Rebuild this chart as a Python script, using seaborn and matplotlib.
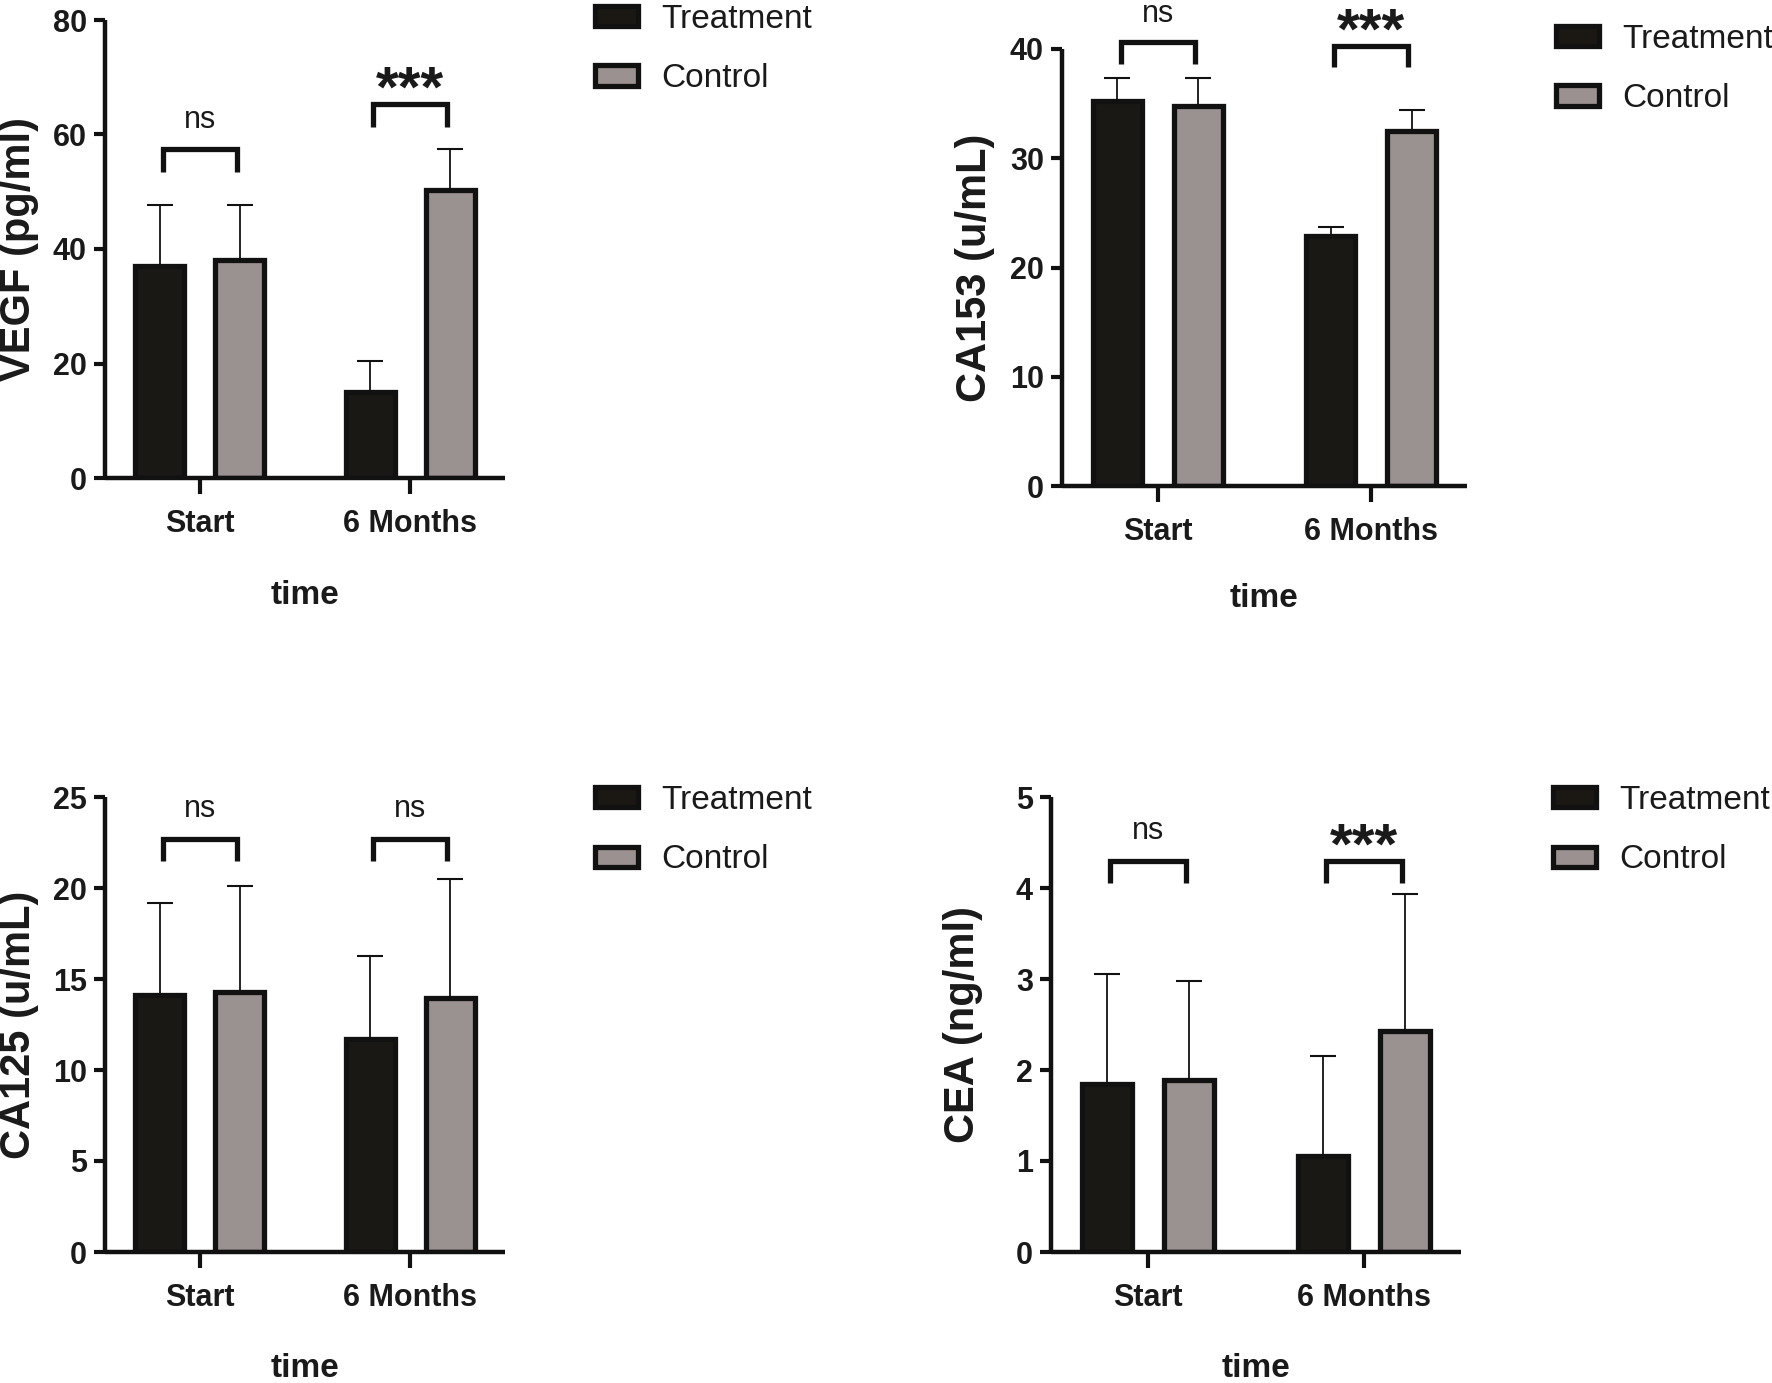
import numpy as np
import pandas as pd
import matplotlib
matplotlib.use("Agg")
import matplotlib.pyplot as plt
from matplotlib.patches import Patch
from matplotlib.container import BarContainer
import seaborn as sns

# ---------------- data ----------------
times = ["Start", "6 Months"]
groups = ["Treatment", "Control"]

vegf_treatment = [37.0, 15.0]
vegf_control = [38.0, 50.3]
vegf_treatment_err = [10.7, 5.4]
vegf_control_err = [9.7, 7.1]

ca153_treatment = [35.25, 22.9]
ca153_control = [34.8, 32.5]
ca153_treatment_err = [2.05, 0.8]
ca153_control_err = [2.5, 1.9]

ca125_treatment = [14.1, 11.7]
ca125_control = [14.3, 13.95]
ca125_treatment_err = [5.1, 4.55]
ca125_control_err = [5.8, 6.55]

cea_treatment = [1.85, 1.05]
cea_control = [1.89, 2.43]
cea_treatment_err = [1.21, 1.1]
cea_control_err = [1.09, 1.5]

y_labels = ["VEGF (pg/ml)", "CA153 (u/mL)", "CA125 (u/mL)", "CEA (ng/ml)"]
y_max = [80, 40, 25, 5]
y_step = [20, 10, 5, 1]

sig_labels = [["ns", "***"], ["ns", "***"], ["ns", "ns"], ["ns", "***"]]
bracket_tops = [[57.4, 65.3], [40.6, 40.3], [22.7, 22.7], [4.3, 4.3]]

# ---------------- style ----------------
sns.set_theme(style="white")
plt.rcParams["font.family"] = ["Liberation Sans", "DejaVu Sans"]
TXT = "#1a1a1a"
DARK = "#111111"
colors = {"Treatment": "#1b1814", "Control": "#9b9190"}

fig = plt.figure(figsize=(17.72, 13.83), dpi=100)
W, H = 1772, 1383
# axes boxes in pixels: left, right, top, bottom
boxes = [(105, 505, 20, 478), (1062, 1467, 49, 486),
         (105, 505, 797, 1252), (1051, 1461, 797, 1252)]
# legend top-left anchor in pixels
legend_anchor = [(595, 4), (1556, 24), (595, 785), (1553, 785)]

panels = [
    (vegf_treatment, vegf_control, vegf_treatment_err, vegf_control_err),
    (ca153_treatment, ca153_control, ca153_treatment_err, ca153_control_err),
    (ca125_treatment, ca125_control, ca125_treatment_err, ca125_control_err),
    (cea_treatment, cea_control, cea_treatment_err, cea_control_err),
]

for i, (tr, ct, tre, cte) in enumerate(panels):
    l, r, t, b = boxes[i]
    ax = fig.add_axes([l / W, 1 - b / H, (r - l) / W, (b - t) / H])
    df = pd.DataFrame({
        "time": times + times,
        "group": [groups[0]] * 2 + [groups[1]] * 2,
        "value": tr + ct,
    })
    sns.barplot(data=df, x="time", y="value", hue="group", order=times,
                hue_order=groups, palette=colors, width=0.76, gap=0.39,
                edgecolor=DARK, linewidth=3.8, errorbar=None,
                legend=False, ax=ax, zorder=2)
    errs = [tre, cte]
    bar_conts = [c for c in ax.containers if isinstance(c, BarContainer)]
    centers = []
    for gi, cont in enumerate(bar_conts):
        xs = [p.get_x() + p.get_width() / 2 for p in cont.patches]
        hs = [p.get_height() for p in cont.patches]
        centers.append(xs)
        ax.errorbar(xs, hs, yerr=[np.zeros(len(xs)), errs[gi]], fmt="none",
                    ecolor=DARK, elinewidth=1.3, capsize=9.5, capthick=1.5,
                    zorder=1)
    ym = y_max[i]
    ax.set_ylim(0, ym)
    ax.set_xlim(-0.45, 1.45)
    ticks = np.arange(0, ym + 0.001, y_step[i])
    ax.set_yticks(ticks)
    ax.set_yticklabels([f"{v:g}" for v in ticks])
    for s in ["top", "right"]:
        ax.spines[s].set_visible(False)
    for s in ["left", "bottom"]:
        ax.spines[s].set_linewidth(3.2)
        ax.spines[s].set_color(DARK)
        ax.spines[s].set_capstyle("butt")
    ax.tick_params(axis="y", direction="out", length=8, width=3.0, pad=5,
                   labelsize=22, colors=DARK, left=True)
    ax.tick_params(axis="x", direction="out", length=11.5, width=3.0, pad=11,
                   labelsize=22, colors=DARK, bottom=True)
    for lab in ax.get_xticklabels() + ax.get_yticklabels():
        lab.set_fontweight("bold")
        lab.set_color(TXT)
    ax.set_ylabel(y_labels[i], fontsize=30, fontweight="bold", color=TXT)
    ax.set_xlabel("time", fontsize=24, fontweight="bold", color=TXT)
    ax.yaxis.set_label_coords(-0.165, 0.5)
    ax.xaxis.set_label_coords(0.5, -0.222)

    # significance brackets
    for k in range(2):
        x1, x2 = centers[0][k] + 0.015, centers[1][k] - 0.015
        ytop = bracket_tops[i][k]
        leg = 0.049 * ym
        ax.plot([x1, x1, x2, x2], [ytop - leg, ytop, ytop, ytop - leg],
                color=DARK, lw=3.8, clip_on=False, zorder=3,
                solid_joinstyle="miter", solid_capstyle="butt")
        lab = sig_labels[i][k]
        if lab == "ns":
            ax.text((x1 + x2) / 2, ytop + 0.065 * ym, lab, ha="center",
                    va="center", fontsize=22, color=TXT, clip_on=False)
        else:
            ax.text((x1 + x2) / 2, ytop + 0.027 * ym, lab, ha="center",
                    va="center", fontsize=42, fontweight="bold", color=TXT,
                    clip_on=False)

    handles = [Patch(facecolor=colors[g], edgecolor=DARK, linewidth=3.8)
               for g in groups]
    lx, ly = legend_anchor[i]
    ax.legend(handles, groups, loc="upper left",
              bbox_to_anchor=(lx / W, 1 - ly / H),
              bbox_transform=fig.transFigure,
              frameon=False, fontsize=24, handlelength=1.3, handleheight=0.55,
              handletextpad=0.7, labelspacing=0.85, borderpad=0,
              borderaxespad=0, labelcolor=TXT)

fig.savefig("out.png", dpi=100, facecolor="white")
